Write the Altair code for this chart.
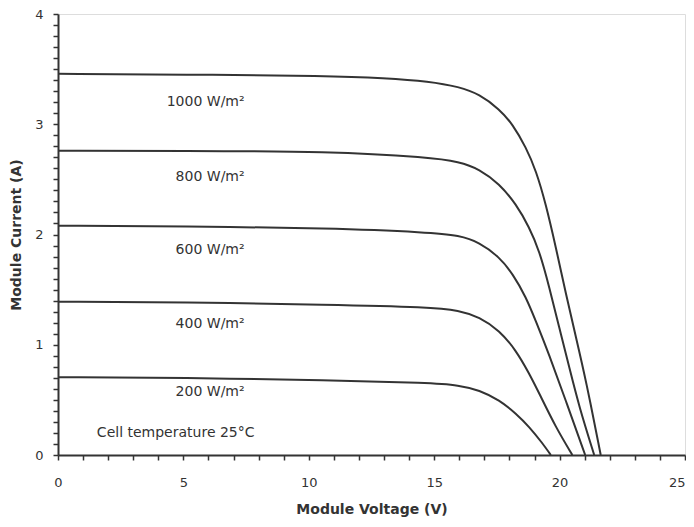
import altair as alt
import pandas as pd

# Curve data (Voltage V, Current A)
v1000 = [0, 5, 10.83, 13, 14.81, 16.0, 16.8, 17.6, 18.13, 18.66, 19.06, 19.45, 19.85, 20.25, 20.65, 21.05, 21.64]
i1000 = [3.457, 3.45, 3.44, 3.42, 3.39, 3.339, 3.273, 3.137, 3.0, 2.79, 2.58, 2.278, 1.885, 1.463, 1.07, 0.68, 0]

v800 = [0, 5, 10.83, 14.81, 16.0, 16.8, 17.6, 18.26, 18.79, 19.19, 19.59, 19.98, 20.38, 20.78, 21.38]
i800 = [2.76, 2.758, 2.754, 2.70, 2.66, 2.594, 2.459, 2.278, 2.066, 1.855, 1.523, 1.161, 0.80, 0.437, 0]

v600 = [0, 5, 10.83, 14.81, 16.0, 16.8, 17.6, 18.13, 18.66, 19.06, 19.55, 20.3, 21.02]
i600 = [2.08, 2.075, 2.057, 2.02, 1.991, 1.93, 1.795, 1.644, 1.433, 1.21, 0.93, 0.46, 0]

v400 = [0, 5, 10.83, 14.81, 16.0, 16.8, 17.6, 18.26, 18.79, 19.19, 19.85, 20.51]
i400 = [1.39, 1.385, 1.364, 1.342, 1.312, 1.252, 1.131, 0.95, 0.739, 0.558, 0.25, 0]

v200 = [0, 5, 10.83, 14.81, 16.0, 16.8, 17.6, 18.26, 18.79, 19.32, 19.65]
i200 = [0.705, 0.70, 0.679, 0.654, 0.633, 0.588, 0.498, 0.377, 0.256, 0.106, 0]

curve_names = ["1000", "800", "600", "400", "200"]
curve_v = [v1000, v800, v600, v400, v200]
curve_i = [i1000, i800, i600, i400, i200]

label_texts = ["1000 W/m²", "800 W/m²", "600 W/m²", "400 W/m²", "200 W/m²"]
label_v = [7.44, 7.44, 7.44, 7.44, 7.44]
label_i = [3.20, 2.525, 1.855, 1.186, 0.57]

note_text = ["Cell temperature 25°C"]
note_v = [1.55]
note_i = [0.2]

x_ticks = list(range(0, 26))
y_ticks = [round(k * 0.1, 1) for k in range(0, 41)]

rows = []
for name, vs, iss in zip(curve_names, curve_v, curve_i):
    for k, (v, i) in enumerate(zip(vs, iss)):
        rows.append({"curve": name, "V": v, "I": i, "order": k})
df = pd.DataFrame(rows)

labels_df = pd.DataFrame({"text": label_texts, "V": label_v, "I": label_i})
note_df = pd.DataFrame({"text": note_text, "V": note_v, "I": note_i})

FONT = "DejaVu Sans"
INK = "#333333"

xscale = alt.Scale(domain=[0, 25], nice=False, zero=False)
yscale = alt.Scale(domain=[0, 4], nice=False, zero=False)

xaxis = alt.Axis(
    values=x_ticks,
    labelExpr="datum.value % 5 == 0 ? datum.label : ''",
    labelOverlap=False,
    labelFlush=False,
    labelAlign={"condition": {"test": "datum.value == 25", "value": "right"}, "value": "center"},
    grid=False,
    tickSize=5,
    tickColor=INK,
    tickWidth=1.5,
    domainColor=INK,
    domainWidth=2,
    labelPadding=16,
    labelFontSize=13,
    labelColor=INK,
    labelFont=FONT,
    title="Module Voltage (V)",
    titleFont=FONT,
    titleFontSize=14,
    titleFontWeight="bold",
    titleColor=INK,
    titlePadding=13,
)

yaxis = alt.Axis(
    values=y_ticks,
    labelExpr="abs(datum.value - round(datum.value)) < 0.001 ? format(datum.value, 'd') : ''",
    labelOverlap=False,
    labelFlush=False,
    grid=False,
    tickSize=5,
    tickColor=INK,
    tickWidth=1.5,
    domainColor=INK,
    domainWidth=2,
    labelPadding=10,
    labelFontSize=13,
    labelColor=INK,
    labelFont=FONT,
    title="Module Current (A)",
    titleFont=FONT,
    titleFontSize=14,
    titleFontWeight="bold",
    titleColor=INK,
    titlePadding=11,
)

X = alt.X("V:Q", scale=xscale, axis=xaxis)
Y = alt.Y("I:Q", scale=yscale, axis=yaxis)

lines = alt.Chart(df).mark_line(
    color=INK, strokeWidth=2, interpolate="basis"
).encode(
    x=X,
    y=Y,
    detail="curve:N",
    order="order:Q",
)

labels = alt.Chart(labels_df).mark_text(
    font=FONT, fontSize=14, color=INK, align="right", baseline="middle"
).encode(
    x=X,
    y=Y,
    text="text:N",
)

note = alt.Chart(note_df).mark_text(
    font=FONT, fontSize=14, color=INK, align="left", baseline="middle"
).encode(
    x=X,
    y=Y,
    text="text:N",
)

chart = alt.layer(lines, labels, note).properties(
    width=627,
    height=441,
    autosize=alt.AutoSizeParams(type="none"),
    padding={"left": 50, "top": 6, "right": 1, "bottom": 64},
).configure_view(
    stroke=INK, strokeWidth=2
).configure(background="white")

chart.save("out.html", embed_options={"renderer": "svg", "actions": False})
